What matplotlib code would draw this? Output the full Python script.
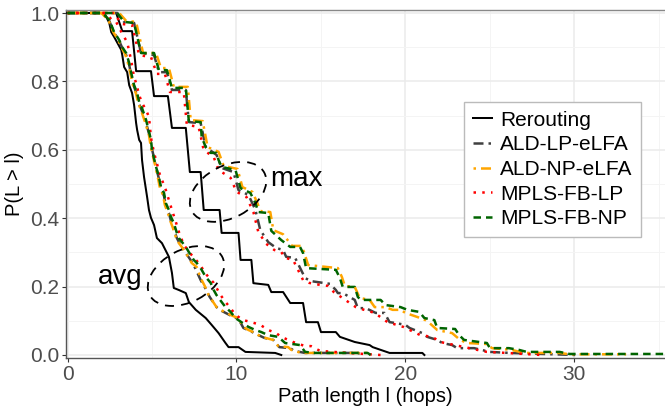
import matplotlib.pyplot as plt
from matplotlib.patches import Ellipse
from matplotlib.transforms import Affine2D
from matplotlib.ticker import MultipleLocator

plt.rcParams['font.family'] = ['Liberation Sans', 'DejaVu Sans']

# CCDF of the path length
rer_avg_x = [0, 2.18, 2.47, 2.59, 2.76, 3.18, 3.24, 3.35, 3.53, 3.65, 3.82, 3.94, 4.06, 4.12, 4.24,
             4.35, 4.41, 4.53, 4.71, 4.82, 4.94, 5.12, 5.29, 5.59, 6.0, 6.18, 6.29, 6.59, 7.0, 7.18,
             7.59, 8.18, 8.53, 8.94, 9.35, 9.53, 10.12, 10.53, 12.29, 12.65]
rer_avg_y = [1.0, 1.0, 0.971, 0.944, 0.930, 0.892, 0.877, 0.842, 0.827, 0.789, 0.766, 0.731, 0.678, 0.658, 0.629,
             0.620, 0.570, 0.520, 0.462, 0.424, 0.401, 0.380, 0.342, 0.327, 0.287, 0.240, 0.196, 0.190, 0.181, 0.155,
             0.132, 0.108, 0.088, 0.064, 0.035, 0.023, 0.023, 0.009, 0.006, 0.0]
rer_max_x = [0, 2.88, 3.24, 3.82, 4.06, 4.94, 5.12, 5.94, 6.18, 7.0, 7.24, 7.88, 8.06, 9.0, 9.12, 10.12,
             10.24, 10.88, 11.0, 11.88, 12.06, 12.76, 13.18, 13.94, 14.12, 14.82, 15.0, 15.88, 16.12, 17.0,
             17.88, 18.06, 19.06, 21.0, 21.12]
rer_max_y = [1.0, 1.0, 0.947, 0.947, 0.83, 0.83, 0.757, 0.757, 0.664, 0.664, 0.535, 0.535, 0.424, 0.424, 0.357, 0.357,
             0.278, 0.278, 0.21, 0.205, 0.184, 0.184, 0.152, 0.152, 0.096, 0.096, 0.067, 0.067, 0.053, 0.038,
             0.029, 0.023, 0.006, 0.006, 0.0]

ldlp_avg_x = [0, 2.06, 2.47, 2.76, 3.06, 3.24, 3.47, 3.65, 3.76, 3.94, 4.12, 4.24, 4.41, 4.65, 4.88, 5.0,
              5.24, 5.41, 5.53, 5.71, 5.82, 6.0, 6.12, 6.29, 6.47, 6.65, 6.88, 7.24, 7.47, 7.88, 8.18, 8.41,
              8.82, 9.12, 9.71, 10.12, 10.41, 10.82, 11.18, 11.65, 12.18, 12.53, 13.18, 13.41, 14.06, 17.18, 17.47]
ldlp_avg_y = [1.0, 1.0, 0.977, 0.942, 0.918, 0.898, 0.877, 0.848, 0.822, 0.784, 0.760, 0.734, 0.713, 0.678, 0.637, 0.602,
              0.550, 0.515, 0.485, 0.465, 0.436, 0.415, 0.392, 0.368, 0.342, 0.325, 0.307, 0.281, 0.263, 0.219, 0.193, 0.170,
              0.140, 0.129, 0.114, 0.105, 0.079, 0.070, 0.061, 0.050, 0.044, 0.023, 0.020, 0.012, 0.006, 0.006, 0.0]
ldlp_max_x = [0, 2.94, 3.35, 3.94, 4.35, 5.12, 5.41, 5.88, 6.18, 7.0, 7.18, 7.88, 8.18, 8.82, 9.12, 9.82,
              10.12, 10.71, 11.12, 11.41, 11.88, 12.35, 12.76, 12.94, 13.47, 14.06, 14.41, 15.53, 15.88, 16.0,
              16.29, 17.0, 17.18, 17.65, 18.24, 18.76, 19.06, 19.35, 20.0, 20.24, 21.0, 21.29, 21.88, 22.18,
              22.76, 23.06, 24.06, 25.0, 26.18, 30.12]
ldlp_max_y = [1.0, 1.0, 0.974, 0.971, 0.883, 0.877, 0.827, 0.827, 0.775, 0.775, 0.681, 0.678, 0.608, 0.585, 0.547, 0.535,
              0.482, 0.468, 0.424, 0.365, 0.330, 0.313, 0.307, 0.287, 0.284, 0.225, 0.216, 0.208, 0.190, 0.181,
              0.181, 0.161, 0.137, 0.137, 0.123, 0.123, 0.096, 0.094, 0.088, 0.079, 0.064, 0.053, 0.044, 0.035,
              0.029, 0.020, 0.020, 0.009, 0.006, 0.0]

ldnp_avg_x = [0, 2.0, 2.41, 2.71, 3.0, 3.18, 3.41, 3.59, 3.71, 3.88, 4.06, 4.18, 4.35, 4.59, 4.82, 4.94,
              5.18, 5.35, 5.47, 5.65, 5.76, 5.94, 6.06, 6.24, 6.41, 6.59, 6.76, 7.18, 7.35, 7.65, 7.88, 8.18,
              8.35, 8.82, 9.06, 9.65, 9.94, 10.12, 10.41, 10.71, 11.0, 11.47, 12.18, 12.47, 13.06, 13.24, 13.82,
              17.76, 17.88]
ldnp_avg_y = [1.0, 1.0, 0.98, 0.944, 0.921, 0.90, 0.880, 0.851, 0.825, 0.787, 0.763, 0.737, 0.716, 0.681, 0.643, 0.605,
              0.556, 0.518, 0.488, 0.468, 0.439, 0.415, 0.395, 0.371, 0.345, 0.327, 0.316, 0.284, 0.269, 0.257, 0.225, 0.196,
              0.175, 0.140, 0.132, 0.117, 0.111, 0.108, 0.082, 0.073, 0.067, 0.053, 0.044, 0.026, 0.023, 0.015, 0.006,
              0.006, 0.0]
ldnp_max_x = [0, 3.06, 3.47, 4.06, 4.47, 5.24, 5.53, 6.0, 6.29, 7.12, 7.29, 8.0, 8.29, 8.94, 9.24, 10.06,
              10.35, 10.94, 11.24, 11.41, 12.0, 12.18, 12.76, 13.29, 13.82, 14.0, 14.24, 16.0, 16.24, 16.41,
              17.0, 17.29, 17.88, 18.18, 18.82, 19.24, 19.71, 20.0, 20.71, 21.18, 21.41, 21.88, 22.76, 23.24,
              23.65, 24.82, 25.12, 26.29, 27.0, 29.12, 29.71, 33.06]
ldnp_max_y = [1.0, 1.0, 0.977, 0.974, 0.883, 0.883, 0.839, 0.839, 0.784, 0.784, 0.687, 0.684, 0.608, 0.594, 0.553, 0.544,
              0.491, 0.477, 0.444, 0.421, 0.418, 0.365, 0.353, 0.319, 0.319, 0.301, 0.263, 0.254, 0.228, 0.202,
              0.199, 0.167, 0.161, 0.140, 0.140, 0.132, 0.132, 0.123, 0.111, 0.102, 0.094, 0.073, 0.064, 0.044,
              0.035, 0.032, 0.020, 0.015, 0.006, 0.006, 0.002, 0.002]

fblp_avg_x = [0, 2.24, 2.59, 2.88, 3.0, 3.24, 3.53, 3.76, 3.94, 4.06, 4.24, 4.41, 4.65, 4.82, 4.94, 5.12,
              5.29, 5.41, 5.59, 5.82, 6.0, 6.18, 6.41, 6.59, 6.88, 7.35, 7.76, 8.24, 8.65, 9.06, 9.35, 9.65,
              9.94, 10.41, 10.88, 11.41, 11.88, 12.35, 12.65, 13.35, 14.06, 14.41, 14.94, 16.59, 18.53]
fblp_avg_y = [1.0, 1.0, 0.982, 0.974, 0.962, 0.939, 0.915, 0.863, 0.813, 0.795, 0.760, 0.737, 0.716, 0.696, 0.635, 0.591,
              0.561, 0.535, 0.512, 0.482, 0.453, 0.424, 0.389, 0.360, 0.322, 0.292, 0.269, 0.234, 0.211, 0.175, 0.155, 0.137,
              0.117, 0.102, 0.096, 0.088, 0.073, 0.064, 0.053, 0.038, 0.026, 0.026, 0.012, 0.006, 0.0]
fblp_max_x = [0, 2.76, 3.18, 3.82, 4.24, 4.94, 5.29, 5.76, 6.06, 6.88, 7.06, 7.76, 8.06, 8.65, 8.94, 9.65,
              10.0, 10.59, 11.0, 11.29, 11.76, 12.24, 12.65, 12.88, 13.35, 13.94, 14.29, 14.94, 15.41, 15.76,
              17.06, 17.35, 18.18, 18.94, 19.88, 20.88, 21.59, 22.06, 24.82, 26.0, 28.06]
fblp_max_y = [1.0, 1.0, 0.968, 0.965, 0.877, 0.871, 0.822, 0.822, 0.769, 0.769, 0.673, 0.667, 0.599, 0.579, 0.541, 0.518,
              0.477, 0.462, 0.418, 0.360, 0.325, 0.307, 0.301, 0.284, 0.278, 0.219, 0.211, 0.205, 0.202, 0.184,
              0.140, 0.135, 0.123, 0.096, 0.082, 0.058, 0.053, 0.038, 0.009, 0.006, 0.0]

fbnp_avg_x = [0, 2.06, 2.47, 2.76, 3.06, 3.24, 3.47, 3.65, 3.76, 3.94, 4.12, 4.24, 4.41, 4.65, 4.94, 5.0,
              5.24, 5.41, 5.53, 5.71, 5.82, 6.0, 6.12, 6.29, 6.47, 6.59, 7.0, 7.18, 7.47, 7.65, 7.88, 8.18,
              8.47, 8.65, 8.82, 9.12, 9.35, 9.65, 9.94, 10.29, 10.71, 11.12, 11.47, 11.88, 12.47, 12.88, 13.76,
              14.06, 14.65, 17.76, 17.94]
fbnp_avg_y = [1.0, 1.0, 0.98, 0.944, 0.921, 0.90, 0.883, 0.854, 0.827, 0.789, 0.766, 0.740, 0.722, 0.687, 0.629, 0.599,
              0.550, 0.520, 0.491, 0.474, 0.444, 0.424, 0.404, 0.386, 0.357, 0.342, 0.316, 0.301, 0.278, 0.269, 0.254, 0.228,
              0.211, 0.190, 0.175, 0.155, 0.140, 0.126, 0.108, 0.096, 0.082, 0.073, 0.067, 0.058, 0.053, 0.035, 0.029,
              0.009, 0.006, 0.006, 0.0]
fbnp_max_x = [0, 2.94, 3.35, 3.94, 4.35, 5.12, 5.41, 5.88, 6.18, 7.0, 7.18, 7.88, 7.94, 8.18, 8.47, 8.82,
              8.94, 9.12, 9.94, 10.24, 10.82, 11.12, 11.29, 11.88, 12.06, 12.65, 13.18, 13.76, 13.94, 14.12,
              15.88, 16.12, 16.29, 17.0, 17.18, 17.35, 18.53, 18.82, 19.71, 20.12, 20.82, 21.12, 21.71, 21.88,
              22.94, 23.18, 23.47, 24.82, 25.0, 26.12, 26.71, 27.18, 29.12, 29.71, 35.5]
fbnp_max_y = [1.0, 1.0, 0.974, 0.971, 0.883, 0.883, 0.833, 0.833, 0.781, 0.781, 0.684, 0.681, 0.637, 0.608, 0.591, 0.591,
              0.570, 0.550, 0.541, 0.488, 0.474, 0.444, 0.418, 0.415, 0.363, 0.336, 0.316, 0.316, 0.298, 0.254,
              0.249, 0.225, 0.199, 0.199, 0.170, 0.161, 0.161, 0.146, 0.140, 0.132, 0.126, 0.108, 0.102, 0.079,
              0.076, 0.058, 0.044, 0.035, 0.020, 0.020, 0.015, 0.009, 0.009, 0.003, 0.003]

names = ['Rerouting', 'ALD-LP-eLFA', 'ALD-NP-eLFA', 'MPLS-FB-LP', 'MPLS-FB-NP']
colors = ['black', '#404040', '#FFA500', '#FF0000', '#006400']
styles = ['-', (0, (4, 2, 1, 2)), (0, (1, 2, 4, 2)), (0, (1, 2.5)), (0, (3, 2))]
widths = [1.45, 1.8, 1.8, 1.8, 1.8]
avg_curves = [(rer_avg_x, rer_avg_y), (ldlp_avg_x, ldlp_avg_y), (ldnp_avg_x, ldnp_avg_y),
              (fblp_avg_x, fblp_avg_y), (fbnp_avg_x, fbnp_avg_y)]
max_curves = [(rer_max_x, rer_max_y), (ldlp_max_x, ldlp_max_y), (ldnp_max_x, ldnp_max_y),
              (fblp_max_x, fblp_max_y), (fbnp_max_x, fbnp_max_y)]

W, H = 665, 412
fig = plt.figure(figsize=(W / 100, H / 100), dpi=100)
ax = fig.add_axes([66 / W, 1 - 358 / H, 1 - 66 / W, 348 / H])

for i in range(len(names)):
    ax.plot(*avg_curves[i], color=colors[i], ls=styles[i], lw=widths[i], label=names[i], zorder=3 + i)
    ax.plot(*max_curves[i], color=colors[i], ls=styles[i], lw=widths[i], zorder=3 + i)

x0, x1 = -0.09, 35.36
y0, y1 = -0.0088, 1.0088
ax.set_xlim(x0, x1)
ax.set_ylim(y0, y1)
ax.set_xticks([0, 10, 20, 30])
ax.xaxis.set_minor_locator(MultipleLocator(5))
ax.set_yticks([0, 0.2, 0.4, 0.6, 0.8, 1.0])
ax.set_yticklabels(['0.0', '0.2', '0.4', '0.6', '0.8', '1.0'])
ax.yaxis.set_minor_locator(MultipleLocator(0.1))
ax.grid(which='major', color='#EBEBEB', lw=1.1)
ax.grid(which='minor', color='#F4F4F4', lw=0.7)
ax.set_axisbelow(True)
ax.tick_params(which='major', labelsize=15, labelcolor='#4D4D4D', color='#333333', length=3, width=0.8, pad=2)
ax.tick_params(which='minor', length=0)
ax.spines['right'].set_visible(False)
ax.spines['top'].set_color('#888888')
for s in ['left', 'bottom']:
    ax.spines[s].set_color('#555555')
for s in ax.spines.values():
    s.set_linewidth(1.0)

ax.set_xlabel('Path length l (hops)', fontsize=14.5, labelpad=2)
ax.set_ylabel('P(L > l)', fontsize=14.5, labelpad=4)

# dashed ellipses drawn in pixel space so that the tilt looks right
pos = ax.get_position()
sx = pos.width * W / (x1 - x0)
sy = pos.height * H / (y1 - y0)
px = Affine2D().scale(1 / sx, 1 / sy) + ax.transData
for cx, cy in [(9.5, 0.477), (7.01, 0.231)]:
    ax.add_patch(Ellipse((cx * sx, cy * sy), 82, 52, angle=28, transform=px, fill=False,
                         ec='black', lw=1.3, ls=(0, (5, 4)), zorder=10))
ax.text(11.98, 0.515, 'max', fontsize=20, ha='left', va='center')
ax.text(1.8, 0.228, 'avg', fontsize=20, ha='left', va='center')

leg = ax.legend(loc='upper left', bbox_to_anchor=(464 / W, 1 - 102 / H), bbox_transform=fig.transFigure,
                fontsize=15, fancybox=False, framealpha=1, edgecolor='#BBBBBB', borderpad=0.42,
                labelspacing=0.27, handlelength=0.9, handletextpad=0.4, borderaxespad=0)
leg.get_frame().set_linewidth(1.0)
leg.set_zorder(20)

fig.savefig('out.png', dpi=100)
